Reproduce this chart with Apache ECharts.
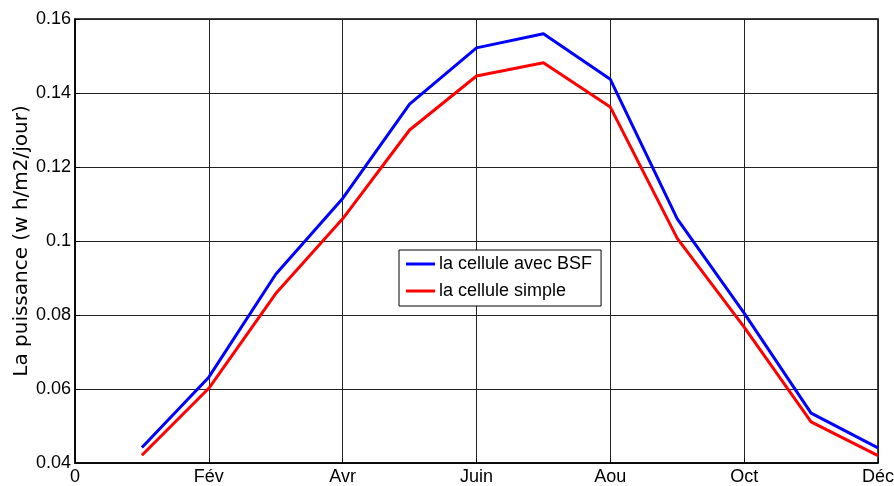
<!DOCTYPE html>
<html>
<head>
<meta charset="utf-8">
<script src="https://cdn.jsdelivr.net/npm/echarts@6/dist/echarts.min.js"></script>
<style>html,body{margin:0;padding:0;background:#fff}#c{width:894px;height:486px}</style>
</head>
<body>
<div id="c"></div>
<script>
const months = [1,2,3,4,5,6,7,8,9,10,11,12];
const blueValues = [0.0442,0.0632,0.0910,0.1115,0.1370,0.1522,0.1560,0.1437,0.1060,0.0805,0.0535,0.0441];
const redValues  = [0.0421,0.0602,0.0858,0.1060,0.1300,0.1446,0.1482,0.1362,0.1007,0.0767,0.0511,0.0420];
const xTickLabels = {0:'0',2:'Fév',4:'Avr',6:'Juin',8:'Aou',10:'Oct',12:'Déc'};
const seriesNames = ['la cellule avec BSF','la cellule simple'];
const yTitle = 'La puissance (w h/m2/jour)';

const font = 'Liberation Sans, Arial, sans-serif';
const chart = echarts.init(document.getElementById('c'));
chart.setOption({
  animation: false,
  backgroundColor: '#fff',
  grid: {left: 75, top: 19, right: 16, bottom: 23, show: true, borderColor: '#000', borderWidth: 1.5,
    containLabel: false, outerBoundsMode: 'none'},
  xAxis: {
    type: 'value', min: 0, max: 12, interval: 2,
    axisLine: {show: true, lineStyle: {color: '#000', width: 1.5}},
    axisTick: {show: true, inside: true, length: 5, lineStyle: {color: '#000'}},
    splitLine: {show: true, lineStyle: {color: '#222', width: 1}},
    axisLabel: {color: '#000', fontFamily: font, fontSize: 18, margin: 5,
      formatter: v => xTickLabels[v] !== undefined ? xTickLabels[v] : ''},
  },
  yAxis: {
    type: 'value', min: 0.04, max: 0.16, interval: 0.02,
    name: yTitle, nameLocation: 'middle', nameGap: 43, nameMoveOverlap: false,
    nameTextStyle: {color: '#000', fontFamily: 'DejaVu Sans, sans-serif', fontSize: 20},
    axisLine: {show: true, lineStyle: {color: '#000', width: 1.5}},
    axisTick: {show: true, inside: true, length: 5, lineStyle: {color: '#000'}},
    splitLine: {show: true, lineStyle: {color: '#222', width: 1}},
    axisLabel: {color: '#000', fontFamily: font, fontSize: 18, margin: 4,
      formatter: v => String(Math.round(v*100)/100)},
  },
  legend: {
    orient: 'vertical', left: 399, top: 250,
    borderColor: '#000', borderWidth: 1, padding: [5, 9, 6, 7],
    backgroundColor: '#fff',
    itemGap: 9, itemWidth: 29, itemHeight: 3, icon: 'rect',
    textStyle: {color: '#000', fontFamily: font, fontSize: 18, lineHeight: 18, padding: [0,0,0,-1]},
    data: seriesNames
  },
  series: [
    {name: seriesNames[0], type: 'line', data: months.map((m,i)=>[m, blueValues[i]]),
      showSymbol: false, lineStyle: {color: '#0000ff', width: 3}, itemStyle: {color: '#0000ff'}},
    {name: seriesNames[1], type: 'line', data: months.map((m,i)=>[m, redValues[i]]),
      showSymbol: false, lineStyle: {color: '#ff0000', width: 3}, itemStyle: {color: '#ff0000'}}
  ]
});
</script>
</body>
</html>
